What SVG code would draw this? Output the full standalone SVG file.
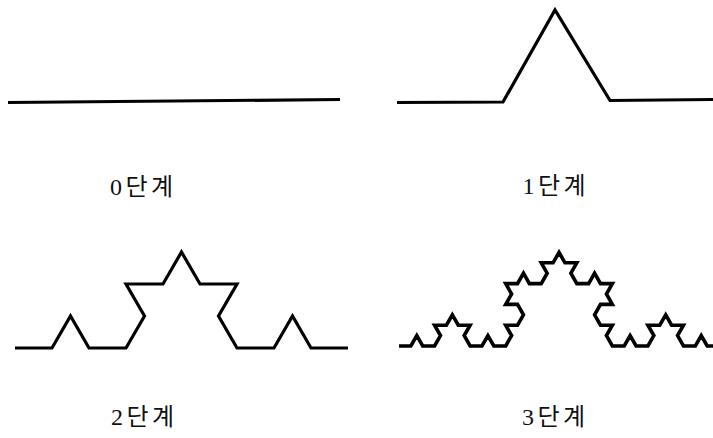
<svg xmlns="http://www.w3.org/2000/svg" width="713" height="438" viewBox="0 0 713 438">
<style>
.k{fill:none;stroke:#000;stroke-width:3.2;stroke-linejoin:miter;stroke-linecap:butt}
.k3{stroke-width:3.6}
.lbl{font-family:"Liberation Serif","Noto Sans CJK KR",serif;font-size:24px;fill:#111;text-anchor:middle}
</style>
<rect width="713" height="438" fill="#fff"/>
<g id="stage0">
<path class="k" d="M8 102.5 L340 99.5"/>
<text class="lbl" x="141.5" y="195" textLength="63">0단계</text>
</g>
<g id="stage1">
<path class="k" d="M397 102.5 L503 102 L555 10 L610 100.5 L713 99.5"/>
<text class="lbl" x="554" y="194" textLength="63">1단계</text>
</g>
<g id="stage2">
<path class="k" d="M15 348 h37 l18.5-32 l18.5 32 h37 l18.5-32 l-18.5-32 h37 l18.5-32 l18.5 32 h37 l-18.5 32 l18.5 32 h37 l18.5-32 l18.5 32 h37"/>
<text class="lbl" x="142.5" y="425" textLength="63">2단계</text>
</g>
<g id="stage3">
<path class="k k3" d="M399 346
h11.85 l5.93-10.4 l5.93 10.4 h11.85
l5.93-10.4 l-5.93-10.4 h11.85 l5.93-10.4
l5.93 10.4 h11.85 l-5.93 10.4 l5.93 10.4
h11.85 l5.93-10.4 l5.93 10.4 h11.85
l5.93-10.4 l-5.93-10.4 h11.85 l5.93-10.4
l-5.93-10.4 h-11.85 l5.93-10.4 l-5.93-10.4
h11.85 l5.93-10.4 l5.93 10.4 h11.85
l5.93-10.4 l-5.93-10.4 h11.85 l5.93-10.4
l5.93 10.4 h11.85 l-5.93 10.4 l5.93 10.4
h11.85 l5.93-10.4 l5.93 10.4 h11.85
l-5.93 10.4 l5.93 10.4 h-11.85 l-5.93 10.4
l5.93 10.4 h11.85 l-5.93 10.4 l5.93 10.4
h11.85 l5.93-10.4 l5.93 10.4 h11.85
l5.93-10.4 l-5.93-10.4 h11.85 l5.93-10.4
l5.93 10.4 h11.85 l-5.93 10.4 l5.93 10.4
h11.85 l5.93-10.4 l5.93 10.4 h11.85"/>
<text class="lbl" x="553.5" y="425" textLength="63">3단계</text>
</g>
</svg>
